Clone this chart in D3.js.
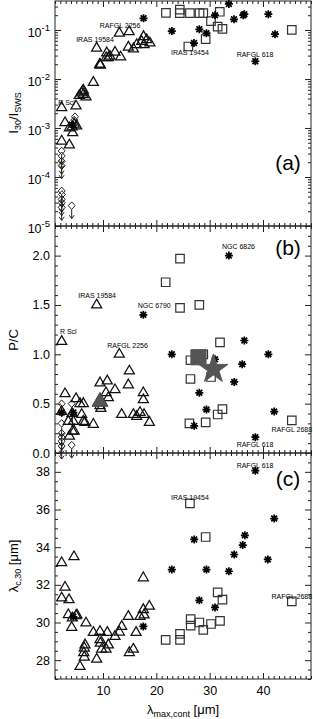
<!DOCTYPE html>
<html>
<head>
<meta charset="UTF-8" />
<title>I30/ISWS, P/C and lambda_c,30 vs lambda_max,cont</title>
<style>
  body { margin: 0; background: #fff; }
  svg text { font-family: "Liberation Sans", Arial, sans-serif; fill: #000; }
</style>
</head>
<body>
<script src="https://d3js.org/d3.v7.min.js"></script>
<script>
// ---- data: [lambda_max,cont, value] ----
// panel (a): I30 / I_SWS
const aTri = [[2.25,2.6e-3],[4.94,2.8e-3],[2.88,1.28e-3],[3.69,1.0e-3],[4.31,8.0e-4],[2.25,5.4e-4],
  [3.69,4.5e-4],[5.06,1.1e-3],[4.6,1.2e-3],[4.2,1.05e-3],[6.19,5.6e-3],[6.31,4.8e-3],[5.56,4.6e-3],
  [6.81,4.3e-3],[6.3,5.9e-3],[6.0,5.2e-3],[8.19,8.5e-3],[9.44,1.95e-2],[9.5,1.9e-2],[9.4,2.0e-2],
  [8.81,4.25e-2],[10.7,3.4e-2],[11.0,2.7e-2],[11.3,2.9e-2],[10.6,2.7e-2],[12.25,3.5e-2],[13.3,2.8e-2],
  [13.06,8.6e-2],[14.9,9.2e-2],[14.75,4.45e-2],[15.7,4.1e-2],[16.3,5.0e-2],[17.6,7.3e-2],[17.25,5.8e-2],
  [18.2,6.3e-2],[18.8,5.4e-2],[17.7,5.0e-2]];
const aStar = [[17.6,0.173],[22.9,0.095],[28.06,0.103],[29.4,0.086],[27.06,0.054],[31.0,0.2],[33.6,0.34],
  [34.56,0.165],[36.3,0.2],[36.5,0.21],[41.0,0.21],[42.25,0.082],[38.56,0.023],[4.44,1.15e-3]];
const aSq = [[21.8,0.224],[24.4,0.26],[24.4,0.22],[26.3,0.22],[28.1,0.22],[28.8,0.22],[31.9,0.235],
  [30.25,0.152],[31.5,0.117],[32.4,0.105],[29.25,0.065],[26.0,0.046],[45.4,0.1]];
const aDia = [[4.75,1.7e-3],[4.6,1.45e-3]];
const aLim = [[2.25,3.4e-4],[2.25,2.7e-4],[2.25,2.1e-4],[2.25,1.7e-4],[2.25,5.2e-5],[2.3,4.4e-5],
  [2.25,3.5e-5],[2.25,3.0e-5],[2.25,2.4e-5],[4.13,2.6e-5]];
const aLabels = [[3.16,2.9e-3,"R Scl"],[8.5,0.056,"IRAS 19584"],[13.2,0.112,"RAFGL 2256"],
  [26.3,0.0304,"IRAS 19454"],[38.5,0.0277,"RAFGL 618"]];

// panel (b): P/C
const bTri = [[2.25,1.13],[8.81,1.5],[13.06,1.0],[14.94,0.83],[14.75,0.69],[9.44,0.71],[10.8,0.73],
  [10.56,0.61],[12.25,0.64],[11.0,0.56],[17.56,0.61],[17.56,0.54],[13.5,0.39],[15.7,0.39],[16.3,0.37],
  [16.94,0.41],[17.7,0.39],[18.7,0.31],[9.44,0.48],[9.6,0.45],[2.88,0.60],[4.94,0.55],[5.69,0.5],
  [6.31,0.5],[6.0,0.39],[6.3,0.32],[6.6,0.31],[8.19,0.29],[3.5,0.32],[4.44,0.32],[4.3,0.22],[4.6,0.22],
  [3.7,0.17],[2.25,0.42],[4.2,0.40]];
const bTriGrey = [[9.44,0.52]];
const bStar = [[17.56,1.40],[33.6,2.0],[36.5,1.14],[22.9,1.0],[41.0,1.0],[31.0,0.95],[36.1,0.90],
  [34.6,0.72],[28.06,0.61],[29.4,0.44],[42.1,0.42],[27.1,0.275],[38.56,0.16],[2.25,0.41],[4.44,0.41]];
const bSq = [[24.44,1.97],[21.75,1.73],[24.44,1.47],[28.06,1.50],[31.94,1.12],[28.8,1.0],[26.4,0.94],
  [30.25,0.77],[26.4,0.75],[32.4,0.445],[31.5,0.39],[26.2,0.30],[29.25,0.31],[45.4,0.33]];
const bSqGrey = [[27.9,0.97]];
const bStarGrey = [[30.7,0.85]];
const bLim = [[2.25,0.5],[2.25,0.3],[2.25,0.2],[2.25,0.16],[2.25,0.12],[2.25,0.07],[4.13,0.5],
  [4.3,0.4],[4.13,0.08]];
const bLabels = [[3.5,1.21,"R Scl"],[8.9,1.57,"IRAS 19584"],[19.6,1.47,"NGC 6790"],
  [14.6,1.064,"RAFGL 2256"],[35.4,2.07,"NGC 6826"],[45.4,0.21,"RAFGL 2688"],[38.5,0.056,"RAFGL 618"]];

// panel (c): lambda_c,30 [um]
const cTri = [[2.25,33.17],[4.56,33.49],[2.88,31.87],[2.25,31.30],[3.63,31.21],[3.5,30.41],[4.25,30.24],
  [4.13,29.74],[4.94,30.36],[5.1,30.4],[6.81,29.97],[6.63,28.81],[6.5,28.64],[6.4,28.40],[6.5,28.16],
  [5.69,27.66],[8.19,29.47],[8.81,28.05],[9.44,29.52],[9.44,29.08],[9.5,28.9],[9.75,28.58],[10.8,29.47],
  [11.0,28.81],[10.56,28.58],[12.25,29.26],[13.06,29.49],[13.5,29.79],[14.75,30.32],[14.94,28.40],
  [15.69,28.58],[16.2,29.47],[16.94,30.32],[17.56,32.37],[17.56,30.68],[17.7,30.4],[18.69,30.86]];
const cStar = [[38.56,38.06],[42.1,35.52],[27.1,34.41],[36.6,34.63],[36.2,34.11],[34.6,33.61],
  [40.9,33.35],[22.9,32.81],[29.4,32.81],[33.6,32.72],[28.06,31.18],[31.0,30.80],[17.56,29.79],[4.44,30.3]];
const cSq = [[26.3,36.33],[29.25,34.54],[31.5,31.6],[32.4,31.21],[45.4,31.12],[26.44,30.18],
  [26.44,29.83],[28.06,30.0],[28.8,29.61],[30.25,29.92],[31.94,30.09],[21.75,29.08],[24.44,29.4],
  [24.44,29.08]];
const cLabels = [[38.5,38.23,"RAFGL 618"],[26.3,36.49,"IRAS 19454"],[45.4,31.27,"RAFGL 2688"]];

const xTicks = [10, 20, 30, 40];
const bTicks = [0, 0.5, 1.0, 1.5, 2.0];
const cTicks = [28, 30, 32, 34, 36, 38];
const aTicks = [1e-5, 1e-4, 1e-3, 1e-2, 1e-1];

// ---- layout ----
const W = 313, H = 719;
const L = 55, R = 311;
const svg = d3.select("body").append("svg").attr("width", W).attr("height", H);

const x = d3.scaleLinear().domain([1, 49]).range([L, R]);
const yA = d3.scaleLog().domain([1e-5, 0.39]).range([226, 1]);
const yB = d3.scaleLinear().domain([0, 2.3]).range([453, 226]);
const yC = d3.scaleLinear().domain([27, 39]).range([679, 453]);

const xMinor = d3.range(1, 50).filter(v => v % 10 !== 0);

function frame(y, major, minor, fmt, showX) {
  const g = svg.append("g");
  const [y0, y1] = y.range();
  // x ticks bottom & top
  g.append("g").attr("transform", `translate(0,${y0})`)
    .call(d3.axisBottom(x).tickValues(xTicks).tickSizeInner(-6).tickSizeOuter(0).tickPadding(7)
      .tickFormat(showX ? d3.format("d") : () => ""));
  g.append("g").attr("transform", `translate(0,${y0})`)
    .call(d3.axisBottom(x).tickValues(xMinor).tickSize(-3).tickFormat(() => ""));
  g.append("g").attr("transform", `translate(0,${y1})`)
    .call(d3.axisTop(x).tickValues(xTicks).tickSize(-6).tickFormat(() => ""));
  g.append("g").attr("transform", `translate(0,${y1})`)
    .call(d3.axisTop(x).tickValues(xMinor).tickSize(-3).tickFormat(() => ""));
  // y ticks left & right
  g.append("g").attr("class", "yl").attr("transform", `translate(${L},0)`)
    .call(d3.axisLeft(y).tickValues(major).tickSizeInner(-6).tickSizeOuter(0).tickPadding(5).tickFormat(fmt));
  g.append("g").attr("transform", `translate(${L},0)`)
    .call(d3.axisLeft(y).tickValues(minor).tickSize(-3).tickFormat(() => ""));
  g.append("g").attr("transform", `translate(${R},0)`)
    .call(d3.axisRight(y).tickValues(major).tickSize(-6).tickFormat(() => ""));
  g.append("g").attr("transform", `translate(${R},0)`)
    .call(d3.axisRight(y).tickValues(minor).tickSize(-3).tickFormat(() => ""));
  g.selectAll(".domain").remove();
  g.selectAll("line").attr("stroke", "#222");
  g.selectAll("text").attr("font-size", 12.5).attr("fill", "#000")
    .style("font-family", "'Liberation Sans', Arial, sans-serif");
  g.append("rect").attr("x", L).attr("y", y1).attr("width", R - L).attr("height", y0 - y1)
    .attr("fill", "none").attr("stroke", "#222").attr("stroke-width", 1);
  return g;
}

// panel a: log minor ticks
const aMinor = [];
for (let e = -5; e < 0; e++) for (let m = 2; m <= 9; m++) {
  const v = m * Math.pow(10, e);
  if (v < 0.39) aMinor.push(v);
}
const gA = frame(yA, aTicks, aMinor, () => "", false);
gA.select(".yl").selectAll(".tick text").each(function (d) {
  const t = d3.select(this);
  t.append("tspan").text("10");
  t.append("tspan").attr("dy", -6).attr("font-size", 9.5).text(Math.round(Math.log10(d)));
});
gA.select(".yl").selectAll(".tick text").attr("dy", "0.5em");

const bMinor = d3.range(0, 23).map(i => i / 10).filter(v => Math.round(v * 10) % 5 !== 0);
frame(yB, bTicks, bMinor, d3.format(".1f"), false);

const cMinor = d3.range(27, 39.01, 0.5).filter(v => v % 2 !== 0);
frame(yC, cTicks, cMinor, d3.format("d"), true);

// ---- markers ----
const tri = d3.symbol(d3.symbolTriangle, 44)();
const sq = d3.symbol(d3.symbolSquare, 72)();
const r = 4, q = r * 0.72;
const ast = `M${-r},0L${r},0M0,${-r}L0,${r}M${-q},${-q}L${q},${q}M${-q},${q}L${q},${-q}`;
const dia = "M0,-3.8L3.5,0L0,3.8L-3.5,0Z";
const arrow = "M0,3.8L0,13M-2.5,9.5L0,13L2.5,9.5";

function draw(data, y, path, fill, stroke, sw) {
  svg.append("g").selectAll("path").data(data).join("path")
    .attr("transform", d => `translate(${x(d[0])},${y(d[1])})`)
    .attr("d", path).attr("fill", fill).attr("stroke", stroke).attr("stroke-width", sw);
}
function labels(data, y) {
  svg.append("g").selectAll("text").data(data).join("text")
    .attr("x", d => x(d[0])).attr("y", d => y(d[1]))
    .attr("text-anchor", "middle").attr("font-size", 7).text(d => d[2]);
}

// (a)
draw(aLim, yA, dia, "none", "#222", 1);
draw(aLim, yA, arrow, "none", "#222", 1);
draw(aDia, yA, dia, "none", "#222", 1);
draw(aTri, yA, tri, "none", "#111", 1.25);
draw(aSq, yA, sq, "none", "#333", 1.2);
draw(aStar, yA, ast, "none", "#000", 1.7);
labels(aLabels, yA);

// (b)
draw(bLim, yB, dia, "none", "#222", 1);
draw(bLim, yB, arrow, "none", "#222", 1);
draw(bTri, yB, tri, "none", "#111", 1.25);
draw(bTriGrey, yB, d3.symbol(d3.symbolTriangle, 110)(), "#555", "#444", 1);
draw(bSq, yB, sq, "none", "#333", 1.2);
draw(bSqGrey, yB, d3.symbol(d3.symbolSquare, 230)(), "#555", "#555", 1);
draw(bStar, yB, ast, "none", "#000", 1.7);
draw(bStarGrey, yB, d3.symbol(d3.symbolStar, 260)(), "#555", "#555", 1);
labels(bLabels, yB);

// (c)
draw(cTri, yC, tri, "none", "#111", 1.25);
draw(cSq, yC, sq, "none", "#333", 1.2);
draw(cStar, yC, ast, "none", "#000", 1.7);
labels(cLabels, yC);

// panel tags
[["(a)", yA], ["(b)", yB], ["(c)", yC]].forEach(([t, y], i) => {
  const top = y.range()[1];
  svg.append("text").attr("x", 288).attr("y", i === 0 ? 170 : top + (i === 1 ? 29 : 33))
    .attr("text-anchor", "middle").attr("font-size", 21).text(t);
});

// axis titles
function ytitle(cy, build) {
  const t = svg.append("text").attr("transform", `translate(18,${cy}) rotate(-90)`)
    .attr("text-anchor", "middle").attr("font-size", 13);
  build(t);
}
ytitle(113, t => {
  t.append("tspan").text("I");
  t.append("tspan").attr("dy", 3).attr("font-size", 9).text("30");
  t.append("tspan").attr("dy", -3).text("/I");
  t.append("tspan").attr("dy", 3).attr("font-size", 9).text("SWS");
});
ytitle(340, t => t.append("tspan").text("P/C"));
ytitle(566, t => {
  t.append("tspan").text("λ");
  t.append("tspan").attr("dy", 3).attr("font-size", 9).text("c,30");
  t.append("tspan").attr("dy", -3).text(" [μm]");
});
const xt = svg.append("text").attr("x", 183).attr("y", 714).attr("text-anchor", "middle").attr("font-size", 13);
xt.append("tspan").text("λ");
xt.append("tspan").attr("dy", 3).attr("font-size", 9).text("max,cont");
xt.append("tspan").attr("dy", -3).text(" [μm]");
</script>
</body>
</html>
